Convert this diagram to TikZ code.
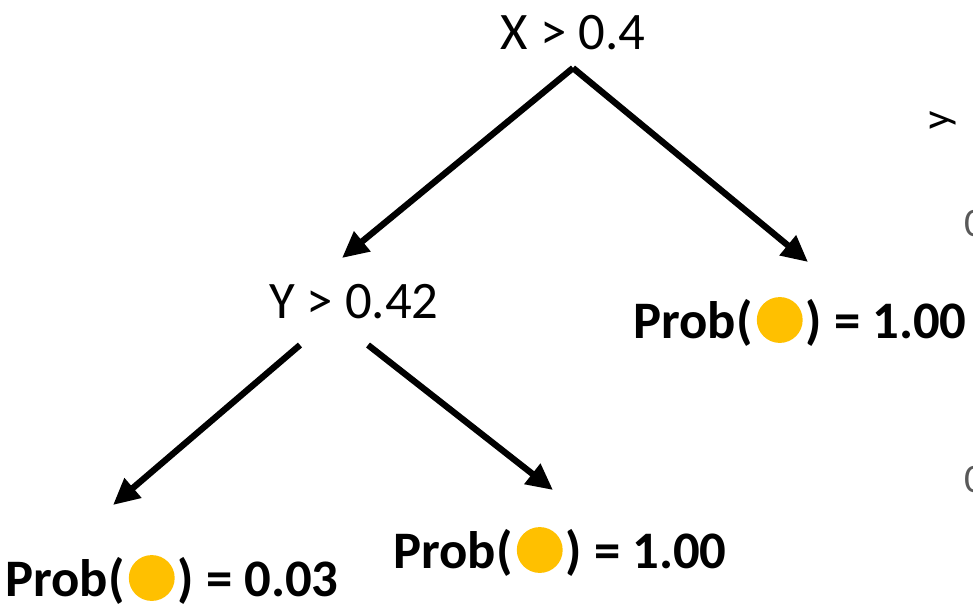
\documentclass[tikz,border=0pt]{standalone}
\usepackage{fontspec}
\setmainfont{Carlito}
\usepackage{xcolor}
\usetikzlibrary{arrows.meta, positioning}
\definecolor{DotGold}{RGB}{255, 192, 0}
\definecolor{AxisGray}{RGB}{89, 89, 89}
\newcommand{\golddot}{\hspace{0.08em}\tikz[baseline=0pt]\fill[DotGold] (0,0.36em) circle (0.435em);\hspace{0.06em}}
\tikzset{
  split/.style={font=\fontsize{30}{36}\selectfont, inner sep=0pt},
  leaf/.style={font=\fontsize{30}{36}\selectfont\bfseries, inner sep=0pt},
  arr/.style={-{Triangle[length=15pt, width=14pt]}, line width=3.6pt},
  axis/.style={font=\fontsize{23}{28}\selectfont, text=AxisGray, inner sep=0pt},
}

\begin{document}
\begin{tikzpicture}[x=0.02cm, y=-0.02cm]
  \useasboundingbox (0,0) rectangle (973,610);
  \clip (0,0) rectangle (973,610);
  % split nodes
  \node[split] (rootq) at (573,33) {X > 0.4};
  \node[split] (yq) at (354,302) {Y > 0.42};
  % leaves
  \node[leaf] (leafR) at (800,322) {Prob(\golddot) = 1.00};
  \node[leaf] (leafM) at (560,552) {Prob(\golddot) = 1.00};
  \node[leaf] (leafL) at (172,580) {Prob(\golddot) = 0.03};
  % arrow ends
  \coordinate (rootS) at (573,68);
  \coordinate (yL) at (300,345);
  \coordinate (yR) at (368,345);
  \coordinate (tipY) at (342,258);
  \coordinate (tipR) at (808,262);
  \coordinate (tipL) at (113,505);
  \coordinate (tipM) at (553,490);
  \draw[arr] (rootS) -- (tipY);
  \draw[arr] (rootS) -- (tipR);
  \draw[arr] (yL) -- (tipL);
  \draw[arr] (yR) -- (tipM);
  % cut-off axis of the neighbouring plot
  \node[axis, text=black, rotate=90] (ylab) at (943,120) {y};
  \node[axis, anchor=west] (tickA) at (964,224) {0};
  \node[axis, anchor=west] (tickB) at (964,480) {0};
\end{tikzpicture}
\end{document}
